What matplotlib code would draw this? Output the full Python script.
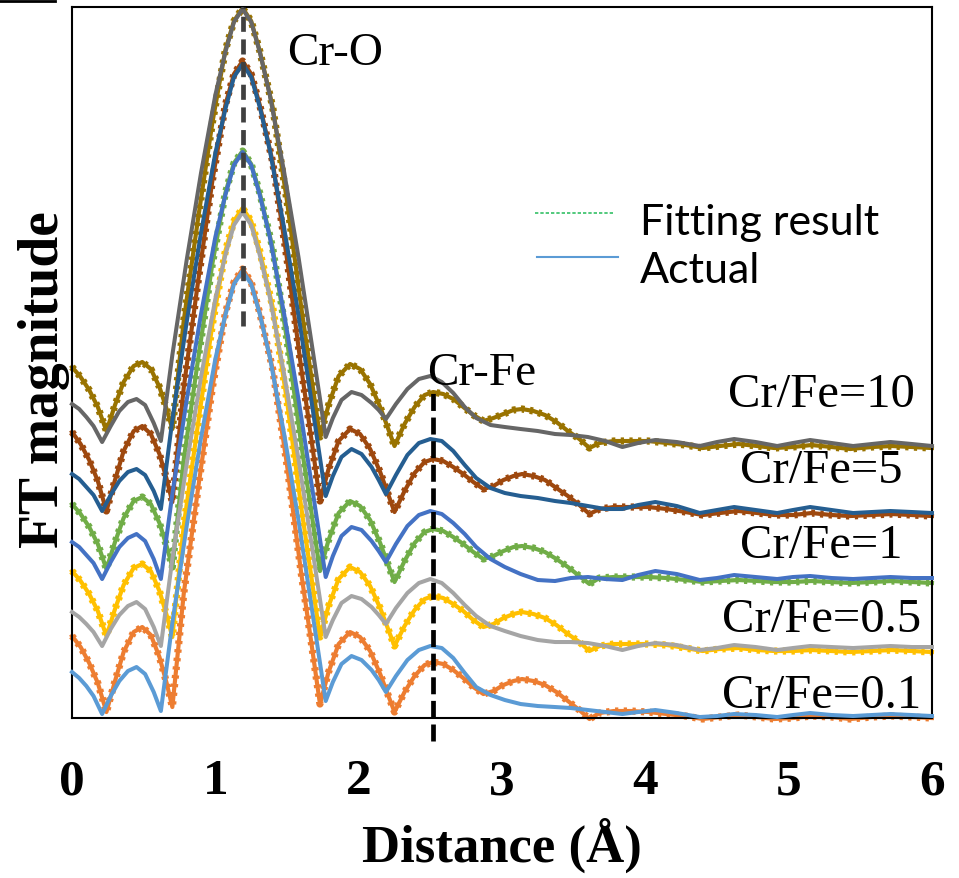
import numpy as np
import matplotlib
matplotlib.use("Agg")
import matplotlib.pyplot as plt
from matplotlib.lines import Line2D

SERIF = "Liberation Serif"

# radial distance grids (angstrom)
x_fit = [0.00, 0.06, 0.12, 0.18, 0.24, 0.30, 0.36, 0.43, 0.49, 0.55, 0.61, 0.66, 0.70,
         0.78, 0.88, 0.98, 1.07, 1.13, 1.19, 1.25, 1.31, 1.40, 1.50, 1.60, 1.67, 1.73,
         1.79, 1.86, 1.94, 2.01, 2.08, 2.15, 2.25, 2.32, 2.39, 2.46, 2.52,
         2.59, 2.66, 2.73, 2.80, 2.87, 2.94, 3.01, 3.08, 3.14, 3.22, 3.30, 3.38, 3.46, 3.54, 3.61,
         3.68, 3.78, 3.90, 4.02, 4.15, 4.28, 4.40, 4.52, 4.65, 4.78, 4.90, 5.03, 5.16, 5.30,
         5.43, 5.58, 5.72, 5.86, 6.00]
x_act = [0.00, 0.05, 0.10, 0.15, 0.21, 0.27, 0.33, 0.39, 0.45, 0.51, 0.57, 0.62,
         0.70, 0.80, 0.90, 1.00, 1.07, 1.13, 1.19, 1.25, 1.31, 1.38, 1.48, 1.58, 1.68, 1.77,
         1.82, 1.88, 1.95, 2.02, 2.09, 2.14, 2.19, 2.26, 2.34, 2.42, 2.50,
         2.58, 2.66, 2.74, 2.82, 2.92, 3.02, 3.13, 3.25, 3.37, 3.48, 3.60, 3.72,
         3.84, 3.95, 4.07, 4.22, 4.38, 4.50, 4.62, 4.77, 4.92, 5.03, 5.15, 5.30, 5.45,
         5.58, 5.71, 5.86, 6.00]

# stacked FT magnitude (a.u.), fitting result
fit_10 = [351, 341, 328, 311, 287, 313, 336, 352, 356, 349, 331, 309, 289,
          398, 500, 596, 668, 697, 710, 697, 667, 611, 517, 410, 341, 281,
          313, 342, 354, 349, 334, 311, 272, 294, 311, 323, 326,
          324, 319, 311, 303, 297, 300, 304, 308, 309, 307, 303, 296, 287, 279, 270,
          275, 277, 277, 277, 275, 273, 270, 272, 274, 272, 270, 271, 273, 271,
          269, 271, 272, 271, 270]
fit_5 = [286, 274, 258, 237, 207, 238, 267, 287, 292, 284, 264, 239, 216,
         331, 437, 538, 613, 644, 657, 644, 613, 556, 459, 349, 279, 217,
         249, 277, 289, 284, 269, 246, 206, 227, 245, 256, 259,
         257, 251, 244, 236, 229, 232, 238, 242, 244, 242, 238, 230, 222, 213, 204,
         209, 211, 211, 211, 209, 206, 203, 205, 207, 205, 203, 203, 205, 203,
         202, 203, 204, 203, 202]
fit_1 = [214, 204, 191, 174, 149, 176, 200, 217, 221, 214, 195, 172, 151,
         259, 359, 455, 525, 555, 567, 554, 525, 470, 378, 273, 206, 147,
         178, 205, 217, 212, 198, 175, 136, 157, 175, 186, 189,
         187, 181, 174, 166, 159, 162, 167, 171, 172, 170, 166, 159, 151, 142, 134,
         140, 141, 141, 141, 140, 138, 136, 137, 138, 137, 136, 136, 137, 136,
         135, 136, 137, 136, 135]
fit_05 = [147, 137, 124, 107, 82, 109, 133, 150, 154, 147, 127, 103, 81,
          193, 295, 394, 467, 497, 510, 497, 467, 411, 317, 210, 141, 81,
          112, 139, 151, 146, 132, 110, 72, 92, 108, 119, 122,
          120, 114, 107, 98, 91, 94, 100, 104, 106, 104, 100, 93, 84, 76, 67,
          72, 74, 74, 74, 73, 70, 67, 69, 70, 68, 67, 67, 68, 67,
          66, 67, 68, 67, 66]
fit_01 = [82, 71, 55, 35, 6, 37, 66, 86, 91, 83, 61, 35, 11,
          125, 230, 331, 405, 436, 449, 436, 405, 349, 253, 144, 75, 14,
          46, 74, 86, 81, 67, 44, 6, 26, 42, 53, 56,
          54, 48, 40, 31, 24, 27, 33, 37, 39, 37, 33, 26, 17, 8, -1,
          5, 7, 7, 6, 4, 2, -1, 1, 3, 1, -1, 0, 2, 1,
          -1, 1, 2, 1, 0]

# stacked FT magnitude (a.u.), actual
act_10 = [314, 309, 301, 292, 276, 292, 307, 316, 319, 313, 295, 277,
          363, 458, 545, 623, 666, 696, 709, 696, 666, 623, 546, 461, 367, 281,
          300, 318, 326, 323, 315, 308, 299, 314, 329, 339, 342,
          336, 325, 311, 300, 293, 291, 289, 287, 284, 283, 281, 277,
          271, 275, 278, 276, 272, 276, 279, 276, 272, 275, 278, 275, 272,
          274, 276, 274, 272]
act_5 = [244, 239, 231, 223, 207, 223, 237, 246, 249, 243, 227, 209,
         298, 396, 485, 565, 609, 641, 654, 641, 611, 568, 490, 403, 308, 222,
         242, 261, 269, 264, 251, 238, 224, 243, 263, 275, 279,
         277, 267, 253, 240, 230, 225, 222, 220, 217, 215, 212, 209,
         209, 213, 216, 212, 205, 208, 211, 208, 205, 208, 211, 208, 205,
         206, 207, 206, 205]
act_1 = [176, 171, 163, 155, 139, 156, 171, 180, 184, 177, 159, 139,
         224, 318, 404, 481, 523, 553, 566, 553, 523, 481, 404, 319, 226, 141,
         162, 182, 191, 188, 177, 167, 156, 174, 192, 203, 207,
         204, 195, 184, 171, 159, 151, 144, 138, 137, 140, 141, 139,
         138, 143, 147, 144, 138, 140, 143, 141, 139, 141, 142, 140, 139,
         140, 141, 140, 140]
act_05 = [106, 101, 94, 86, 72, 89, 103, 112, 116, 109, 91, 72,
          159, 254, 341, 419, 463, 493, 506, 493, 463, 421, 344, 259, 166, 81,
          98, 115, 122, 119, 111, 103, 94, 110, 125, 135, 139,
          135, 125, 113, 102, 92, 87, 82, 78, 76, 76, 75, 72,
          68, 72, 75, 73, 68, 70, 73, 71, 68, 70, 72, 71, 70,
          71, 72, 71, 71]
act_01 = [46, 40, 32, 22, 4, 22, 37, 47, 51, 44, 26, 7,
          95, 192, 280, 359, 403, 434, 447, 434, 404, 361, 284, 198, 103, 17,
          36, 54, 62, 58, 48, 38, 26, 42, 58, 68, 72,
          70, 60, 45, 31, 23, 18, 14, 12, 11, 10, 8, 6,
          4, 6, 8, 5, 1, 2, 4, 3, 1, 3, 5, 3, 2,
          3, 4, 3, 2]

ratios = ["10", "5", "1", "0.5", "0.1"]
fits = [fit_10, fit_5, fit_1, fit_05, fit_01]
acts = [act_10, act_5, act_1, act_05, act_01]
fit_colors = ["#997300", "#9E480E", "#70AD47", "#FFC000", "#ED7D31"]
act_colors = ["#666666", "#255E91", "#4472C4", "#A5A5A5", "#5B9BD5"]
label_y = [312, 236, 161, 87, 11]

cr_o = 1.19
cr_fe = 2.52

fig = plt.figure(figsize=(9.59, 8.79), dpi=100)
ax = fig.add_axes([0.0751, 0.1820, 0.8967, 0.8089])

for yf, c in zip(fits, fit_colors):
    ax.plot(x_fit, yf, color=c, lw=3.0, clip_on=False, zorder=2)
    ax.plot(x_fit, yf, color=c, lw=5.2, ls=(0, (0.45, 0.75)),
            dash_capstyle="butt", clip_on=False, zorder=2)
for ya, c in zip(acts, act_colors):
    ax.plot(x_act, ya, color=c, lw=2.9, clip_on=False, zorder=3)

ax.axvline(cr_o, ymin=0.551, ymax=1.0, color="#404040", lw=3.4,
           ls=(0, (3.2, 1.6)), zorder=4)
ax.axvline(cr_fe, ymin=-0.032, ymax=0.459, color="black", lw=3.4,
           ls=(0, (3.6, 1.4)), clip_on=False, zorder=4)

ax.text(1.50, 654, "Cr-O", fontsize=34, family=SERIF, va="baseline")
ax.text(2.48, 334, "Cr-Fe", fontsize=34, family=SERIF, va="baseline")
for r, ly in zip(ratios, label_y):
    ax.text(5.23, ly, "Cr/Fe=" + r, fontsize=35, family=SERIF,
            ha="center", va="baseline")

# legend
tr = ax.transAxes
ax.add_line(Line2D([0.538, 0.631], [0.710, 0.710], transform=tr, color="#33C066",
                   lw=1.2, ls=(0, (2, 1.2))))
ax.add_line(Line2D([0.541, 0.635], [0.648, 0.648], transform=tr, color="#5B9BD5",
                   lw=1.5))
ax.text(0.660, 0.681, "Fitting result", transform=tr, fontsize=31, family="Lato",
        va="baseline")
ax.text(0.660, 0.613, "Actual", transform=tr, fontsize=31, family="Lato",
        va="baseline")

ax.set_xlim(0, 6)
ax.set_ylim(0, 711)
ax.set_xticks(range(7))
ax.set_xticklabels([str(i) for i in range(7)], fontsize=37, fontweight="bold",
                   family=SERIF)
ax.set_yticks([])
ax.tick_params(axis="x", length=0, pad=29)
for s in ax.spines.values():
    s.set_linewidth(1.5)

ax.set_xlabel("Distance (Å)", fontsize=38, fontweight="bold", family=SERIF, labelpad=9)
ax.set_ylabel("FT magnitude", fontsize=40, fontweight="bold", family=SERIF)
ax.yaxis.set_label_coords(-0.002, 0.478)

fig.add_artist(Line2D([0, 55 / 959], [1 - 1.5 / 879, 1 - 1.5 / 879], color="black",
                      lw=2, transform=fig.transFigure))

fig.savefig("out.png", dpi=100)
